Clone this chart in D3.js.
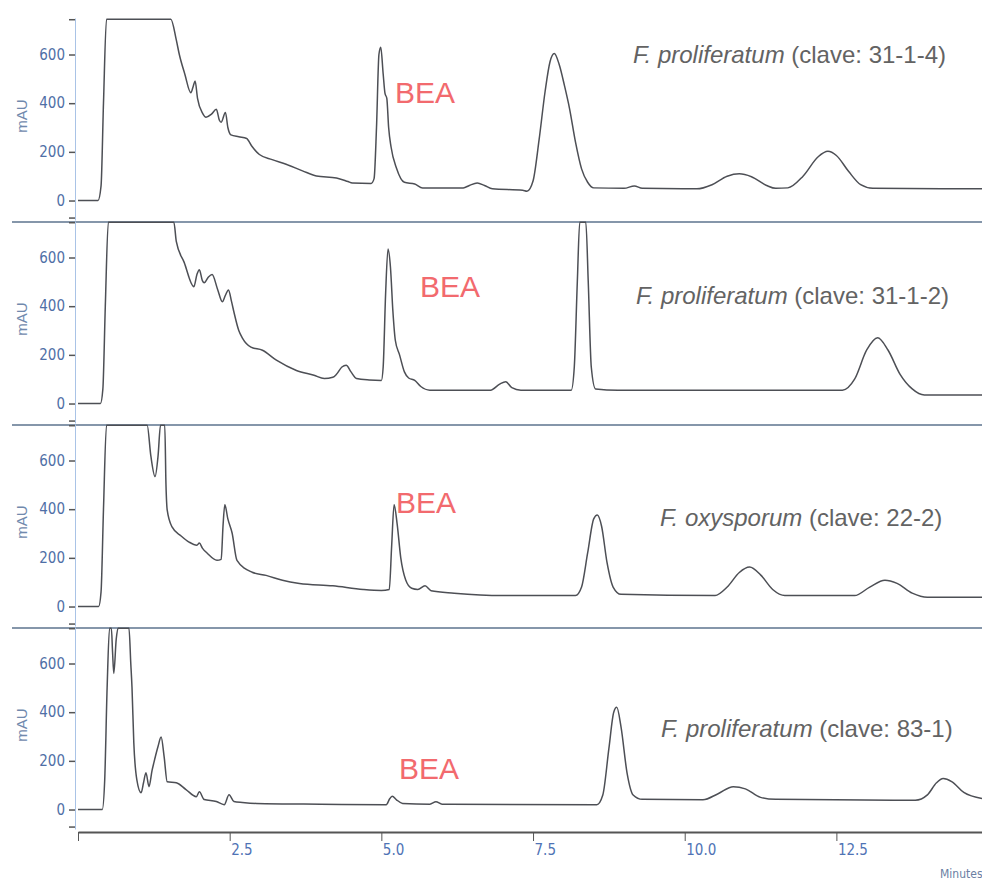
<!DOCTYPE html>
<html>
<head>
<meta charset="utf-8">
<script src="https://cdn.jsdelivr.net/npm/d3@7"></script>
<style>
  body { margin: 0; background: #fff; }
  svg { display: block; }
</style>
</head>
<body>
<svg id="chart" width="982" height="881"></svg>
<script>
// chromatograms, [minutes, mAU]; 745 = detector saturated (flat top)
const trace1 = [[0,0],[0.33,0],[0.38,60],[0.42,400],[0.47,745],[1.53,745],[1.62,660],[1.67,600],[1.76,520],[1.86,443],
  [1.9,470],[1.93,491],[1.97,420],[2.05,360],[2.11,342],[2.2,355],[2.28,375],[2.33,330],[2.36,322],[2.43,362],[2.47,300],
  [2.52,270],[2.65,262],[2.78,255],[2.86,225],[2.99,189],[3.2,168],[3.43,149],[3.7,122],[3.93,101],[4.26,93],[4.45,78],
  [4.52,72],[4.83,70],[4.88,90],[4.92,300],[4.96,600],[4.99,630],[5.03,520],[5.06,440],[5.09,420],[5.12,300],[5.16,220],
  [5.25,133],[5.38,75],[5.55,68],[5.68,52],[6.35,52],[6.45,62],[6.58,72],[6.7,62],[6.83,48],[7.33,42],[7.4,38],[7.5,80],
  [7.6,250],[7.7,450],[7.78,570],[7.85,604],[7.93,560],[8.02,470],[8.1,380],[8.2,240],[8.3,130],[8.4,75],[8.5,52],[9.0,50],
  [9.17,60],[9.3,50],[10.2,48],[10.45,65],[10.7,100],[10.9,110],[11.1,98],[11.35,62],[11.5,50],[11.7,52],[11.95,100],
  [12.2,180],[12.36,202],[12.5,185],[12.7,120],[12.9,65],[13.1,50],[14.9,48]];

const trace2 = [[0,0],[0.37,0],[0.41,60],[0.45,400],[0.5,745],[1.58,745],[1.62,666],[1.75,580],[1.91,480],[1.96,530],
  [2.0,550],[2.05,505],[2.08,496],[2.15,520],[2.21,530],[2.3,470],[2.38,418],[2.43,445],[2.48,467],[2.53,420],[2.57,376],
  [2.65,300],[2.71,269],[2.85,232],[3.04,219],[3.27,178],[3.6,136],[3.89,116],[4.06,103],[4.2,108],[4.26,120],[4.35,150],
  [4.42,157],[4.5,130],[4.59,103],[4.8,97],[5.0,95],[5.03,150],[5.07,450],[5.11,635],[5.15,560],[5.19,380],[5.23,260],
  [5.3,200],[5.38,130],[5.45,105],[5.55,95],[5.65,70],[5.8,55],[6.8,55],[6.95,80],[7.05,90],[7.15,65],[7.3,55],[8.13,55],
  [8.18,150],[8.23,500],[8.27,745],[8.37,745],[8.41,500],[8.46,150],[8.53,60],[8.9,55],[12.6,55],[12.8,100],[13.0,220],
  [13.18,270],[13.35,220],[13.55,120],[13.75,60],[13.95,35],[14.9,35]];

const trace3 = [[0,0],[0.34,0],[0.38,60],[0.42,400],[0.47,745],[1.14,745],[1.2,620],[1.27,534],[1.32,620],[1.36,745],
  [1.43,745],[1.45,500],[1.47,397],[1.55,327],[1.7,290],[1.83,265],[1.96,252],[2.0,261],[2.05,240],[2.13,219],[2.29,190],
  [2.36,194],[2.39,330],[2.42,418],[2.47,360],[2.54,302],[2.62,190],[2.87,141],[3.1,128],[3.37,108],[3.65,95],[4.2,85],
  [4.7,70],[5.0,66],[5.13,70],[5.17,250],[5.21,418],[5.26,340],[5.32,200],[5.4,110],[5.5,75],[5.6,70],[5.72,85],[5.82,65],
  [6.2,55],[7.0,45],[8.2,45],[8.3,80],[8.4,220],[8.5,360],[8.56,376],[8.63,330],[8.72,180],[8.82,80],[8.95,50],[10.5,45],
  [10.7,80],[10.9,140],[11.07,162],[11.25,130],[11.45,70],[11.65,45],[12.8,45],[13.05,80],[13.3,108],[13.5,95],[13.75,55],
  [14.0,38],[14.9,38]];

const trace4 = [[0,0],[0.4,0],[0.44,120],[0.48,500],[0.52,745],[0.55,745],[0.57,645],[0.59,559],[0.63,700],[0.66,745],
  [0.84,745],[0.87,600],[0.89,502],[0.92,273],[0.97,122],[1.04,69],[1.08,110],[1.12,151],[1.17,94],[1.22,160],[1.25,192],
  [1.32,260],[1.37,298],[1.42,216],[1.47,114],[1.62,110],[1.78,82],[1.95,53],[2.0,73],[2.08,41],[2.28,33],[2.41,20],
  [2.49,61],[2.57,33],[2.71,29],[2.94,25],[4.0,22],[5.08,20],[5.14,45],[5.18,55],[5.25,40],[5.35,25],[5.8,22],[5.9,32],
  [6.0,22],[8.55,20],[8.65,60],[8.75,250],[8.83,400],[8.88,420],[8.95,340],[9.05,150],[9.15,60],[9.3,42],[10.3,40],
  [10.55,65],[10.8,94],[11.0,85],[11.25,50],[11.5,42],[13.8,38],[14.0,60],[14.15,110],[14.26,127],[14.4,115],[14.6,70],
  [14.9,45]];

const species = ["F. proliferatum", "F. proliferatum", "F. oxysporum", "F. proliferatum"];
const claves = ["31-1-4", "31-1-2", "22-2", "83-1"];
const peakName = "BEA";
const xTicks = [0, 2.5, 5, 7.5, 10, 12.5];
const yTicks = [-70, 0, 200, 400, 600, 745];
const yLabeled = [0, 200, 400, 600];

// layout
const traces = [trace1, trace2, trace3, trace4];
const panelTop = 18, panelH = 203, plotH = 202;
const axisX = 75;
const speciesPos = [[633, 63], [636, 304], [660, 526], [661, 737]];
const beaPos = [[395, 103], [420, 297], [396, 513], [399, 779]];

const svg = d3.select("#chart");
const narrow = "'Liberation Sans Narrow', 'DejaVu Sans Condensed', sans-serif";

const x = d3.scaleLinear().domain([0, 14.9]).range([78, 982]);

traces.forEach((data, i) => {
    const top = panelTop + i * panelH;
    const y = d3.scaleLinear().domain([-80, 750]).range([top + plotH, top]);

    // separator between panels
    if (i > 0) {
        svg.append("line")
            .attr("x1", 12).attr("x2", 982)
            .attr("y1", top + 1).attr("y2", top + 1)
            .attr("stroke", "#8596aa")
            .attr("stroke-width", 2);
    }

    const yAxis = svg.append("g")
        .attr("transform", `translate(${axisX},0)`)
        .call(d3.axisLeft(y)
            .tickValues(yTicks)
            .tickSize(6)
            .tickSizeOuter(0)
            .tickPadding(4)
            .tickFormat(d => yLabeled.includes(d) ? d : ""));
    yAxis.select(".domain").attr("stroke", "#a9c3e6");
    yAxis.selectAll(".tick line").attr("stroke", "#555").attr("stroke-width", 1.5);
    yAxis.selectAll(".tick text")
        .attr("fill", "#4f6fa6")
        .style("font-family", narrow)
        .style("font-size", "15px");

    svg.append("text")
        .attr("transform", `translate(27,${top + 98}) rotate(-90)`)
        .attr("text-anchor", "middle")
        .attr("fill", "#7189ad")
        .style("font-family", "'Liberation Sans', Arial, sans-serif")
        .style("font-size", "15px")
        .text("mAU");

    svg.append("clipPath").attr("id", `clip${i}`)
        .append("rect")
        .attr("x", axisX).attr("y", top)
        .attr("width", 982 - axisX).attr("height", plotH);

    const line = d3.line()
        .x(d => x(d[0]))
        .y(d => y(d[1]))
        .curve(d3.curveMonotoneX);

    svg.append("path")
        .datum(data)
        .attr("clip-path", `url(#clip${i})`)
        .attr("fill", "none")
        .attr("stroke", "#4d4f55")
        .attr("stroke-width", 1.5)
        .attr("d", line);

    const lab = svg.append("text")
        .attr("x", speciesPos[i][0]).attr("y", speciesPos[i][1])
        .attr("fill", "#636363")
        .style("font-family", "'Liberation Sans', Arial, sans-serif")
        .style("font-size", "24px");
    lab.append("tspan").style("font-style", "italic").text(species[i]);
    lab.append("tspan").text(` (clave: ${claves[i]})`);

    svg.append("text")
        .attr("x", beaPos[i][0]).attr("y", beaPos[i][1])
        .attr("fill", "#f26a6e")
        .style("font-family", "'Liberation Sans', Arial, sans-serif")
        .style("font-size", "30px")
        .text(peakName);
});

// shared time axis
const xAxis = svg.append("g")
    .attr("transform", "translate(0,832)")
    .call(d3.axisBottom(x)
        .tickValues(xTicks)
        .tickSize(9)
        .tickSizeOuter(0)
        .tickPadding(3)
        .tickFormat(d => d === 0 ? "" : d3.format(".1f")(d)));
xAxis.select(".domain").attr("stroke", "#555").attr("stroke-width", 2);
xAxis.selectAll(".tick line").attr("stroke", "#555");
xAxis.selectAll(".tick text")
    .attr("text-anchor", "start")
    .attr("dx", 1)
    .attr("fill", "#4f73b5")
    .style("font-family", narrow)
    .style("font-size", "15px");

svg.append("text")
    .attr("x", 940).attr("y", 878)
    .attr("fill", "#6a80a3")
    .style("font-family", narrow)
    .style("font-size", "12px")
    .text("Minutes");
</script>
</body>
</html>
